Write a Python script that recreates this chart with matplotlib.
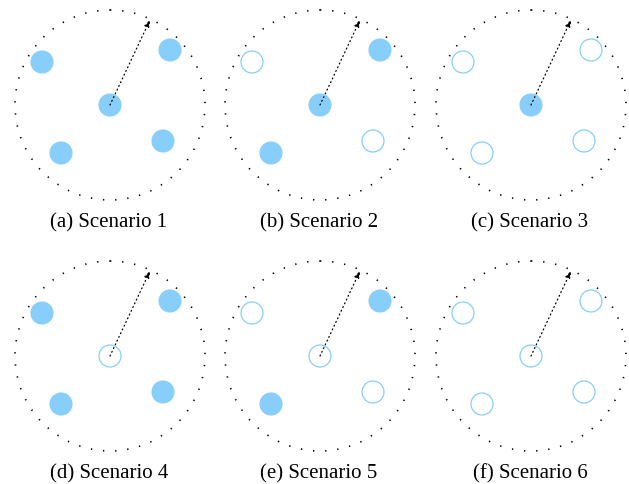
import numpy as np
import matplotlib.pyplot as plt
from matplotlib.patches import Circle

# node offsets from the cell centre (pixels, y pointing down)
node_dx = [0, -68, 60, -49, 53]
node_dy = [0, -43, -55, 48, 36]
node_names = ["centre", "upper-left", "upper-right", "lower-left", "lower-right"]

# which nodes are active (filled) in each scenario
active = [
    [1, 1, 1, 1, 1],
    [1, 0, 1, 1, 0],
    [1, 0, 0, 0, 0],
    [0, 1, 1, 1, 1],
    [0, 0, 1, 1, 0],
    [0, 0, 0, 0, 0],
]
captions = ["(a) Scenario 1", "(b) Scenario 2", "(c) Scenario 3",
            "(d) Scenario 4", "(e) Scenario 5", "(f) Scenario 6"]

blue = "#87CEFA"
cell_r = 95
node_r = 11
col_x = [110, 320, 531]
row_y = [105, 356]

fig = plt.figure(figsize=(6.29, 4.84), dpi=100)
ax = fig.add_axes([0, 0, 1, 1])
ax.set_xlim(0, 629)
ax.set_ylim(484, 0)
ax.set_aspect("equal")
ax.axis("off")

for i, states in enumerate(active):
    cx = col_x[i % 3]
    cy = row_y[i // 3]

    # coverage boundary
    ax.add_patch(Circle((cx, cy), cell_r, fill=False, ec="black",
                        lw=1.2, ls=(0, (0.8, 6.5))))

    # nodes
    for dx, dy, on in zip(node_dx, node_dy, states):
        if on:
            ax.add_patch(Circle((cx + dx, cy + dy), node_r, fc=blue, ec=blue, lw=0.8))
        else:
            ax.add_patch(Circle((cx + dx, cy + dy), node_r, fc="white", ec=blue, lw=0.9))

    # radius arrow
    ang = np.deg2rad(64.8)
    ax.annotate("", xy=(cx + cell_r * np.cos(ang), cy - cell_r * np.sin(ang)),
                xytext=(cx, cy),
                arrowprops=dict(arrowstyle="-|>,head_length=0.45,head_width=0.14",
                                color="black", lw=0.9, ls=(0, (0.8, 2.5)),
                                shrinkA=0, shrinkB=0))

    ax.text(cx - 1, cy + 122, captions[i], ha="center", va="baseline",
            fontsize=15, family="Liberation Serif")

fig.savefig("out.png", dpi=100)
